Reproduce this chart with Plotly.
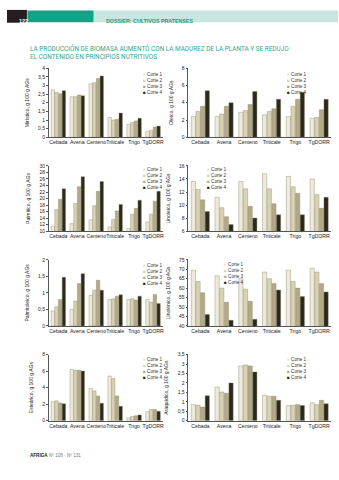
import plotly.graph_objects as go

categories = ["Cebada", "Avena", "Centeno", "Triticale", "Trigo", "TgDORR"]
series_names = ["Corte 1", "Corte 2", "Corte 3", "Corte 4"]
series_colors = ["#eeeadb", "#d9d3b6", "#b1a988", "#2c281c"]

miristico = [[2.75, 2.35, 3.10, 1.15, 0.75, 0.35],
             [2.60, 2.35, 3.15, 1.00, 0.85, 0.40],
             [2.52, 2.45, 3.40, 1.05, 0.95, 0.60],
             [2.70, 2.40, 3.55, 1.40, 1.10, 0.65]]
oleico = [[2.4, 2.4, 2.9, 2.6, 2.4, 2.2],
          [3.0, 2.7, 3.1, 3.0, 3.6, 2.3],
          [3.6, 3.6, 3.8, 3.3, 4.4, 3.2],
          [5.4, 4.0, 5.3, 4.4, 5.2, 4.4]]
palmitico = [[11.5, 12.3, 13.5, 11.3, 10.8, 12.8],
             [16.6, 18.5, 17.8, 13.6, 15.2, 15.2],
             [19.8, 23.6, 22.2, 16.2, 17.0, 19.2],
             [23.0, 26.7, 25.2, 18.2, 19.5, 22.2]]
linoleico = [[13.6, 11.2, 13.6, 14.8, 14.4, 14.0],
             [12.4, 9.6, 12.5, 12.5, 12.8, 11.6],
             [10.8, 8.2, 9.8, 10.2, 11.8, 9.5],
             [9.0, 7.0, 8.0, 8.5, 8.5, 11.2]]
palmitoleico = [[0.45, 0.50, 0.92, 0.80, 0.80, 0.80],
                [0.58, 0.75, 1.08, 0.82, 0.82, 0.72],
                [0.80, 1.28, 1.38, 0.90, 0.78, 0.95],
                [1.47, 1.58, 1.08, 0.94, 0.90, 0.68]]
linolenico = [[69.5, 66.5, 65.0, 68.5, 69.5, 70.5],
              [63.5, 60.0, 59.5, 65.0, 63.5, 68.5],
              [57.5, 52.5, 53.0, 62.5, 60.0, 62.5],
              [46.0, 43.0, 43.5, 59.0, 55.5, 58.0]]
estearico = [[2.30, 6.20, 3.90, 5.40, 0.35, 1.10],
             [2.40, 6.10, 3.60, 5.10, 0.50, 1.35],
             [2.15, 6.10, 3.00, 3.00, 0.60, 1.35],
             [2.05, 6.00, 2.10, 1.75, 0.70, 1.15]]
araquidico = [[0.85, 1.78, 2.90, 1.35, 0.80, 0.95],
              [0.82, 1.52, 2.95, 1.30, 0.82, 0.85],
              [0.72, 1.45, 2.90, 1.30, 0.85, 1.08],
              [1.32, 2.00, 2.58, 1.08, 0.80, 0.90]]

panels = [
    ("Mirístico, g 100 g AGs", miristico, [0, 4], 0.5),
    ("Oleico, g 100 g AGs", oleico, [0, 8], 2),
    ("Palmítico, g 100 g AGs", palmitico, [10, 30], 2),
    ("Linoleico, g 100 g AGs", linoleico, [6, 16], 2),
    ("Palmitoleico, g 100 g AGs", palmitoleico, [0, 2], 0.5),
    ("Linolénico, g 100 g AGs", linolenico, [40, 75], 5),
    ("Esteárico, g 100 g AGs", estearico, [0, 8], 2),
    ("Araquídico, g 100 g AGs", araquidico, [0, 3.5], 0.5),
]

W, H = 339, 480
col_px = [(49, 163), (189, 332)]
row_px = [(66, 136), (165, 231), (260, 327), (356, 423)]
legend_px = [(141, 68), (286, 68), (141, 164), (206, 164),
             (141, 261), (223, 260), (141, 356), (286, 356)]

fig = go.Figure()
annotations = []
shapes = []
teal = "#35a58e"

for i, (title, data, rng, dt) in enumerate(panels):
    r, c = divmod(i, 2)
    n = i + 1
    xa = "x" if n == 1 else f"x{n}"
    ya = "y" if n == 1 else f"y{n}"
    for s in range(4):
        fig.add_trace(go.Bar(
            x=categories, y=data[s], name=series_names[s],
            marker=dict(color=series_colors[s], line=dict(color="#8a8468", width=0.4)),
            xaxis=xa, yaxis=ya, showlegend=False))
    x0, x1 = col_px[c]
    y0, y1 = row_px[r]
    xkey = "xaxis" if n == 1 else f"xaxis{n}"
    ykey = "yaxis" if n == 1 else f"yaxis{n}"
    fig.layout[xkey] = dict(
        domain=[x0 / W, x1 / W], anchor=ya, showline=True, linecolor="#555",
        linewidth=0.6, ticks="", tickangle=0,
        tickfont=dict(size=5.2, color="#222", family="Liberation Sans"),
        showgrid=False, fixedrange=True)
    fig.layout[ykey] = dict(
        domain=[1 - y1 / H, 1 - y0 / H], anchor=xa, range=rng, dtick=dt,
        showline=True, linecolor="#555", linewidth=0.6, ticks="outside", ticklen=2,
        tickcolor="#555", tickwidth=0.6,
        tickfont=dict(size=5, color="#222", family="Liberation Sans"),
        showgrid=False, zeroline=False,
        title=dict(text=title, font=dict(size=5, color="#222", family="Liberation Sans"), standoff=8))
    lx, ly = legend_px[i]
    legend_text = "<br>".join(
        f"<span style='color:{col}'>■</span> {nm}" for nm, col in zip(series_names, series_colors))
    annotations.append(dict(
        x=lx / W, y=1 - ly / H, xref="paper", yref="paper", xanchor="left", yanchor="top",
        text=legend_text, showarrow=False, align="left",
        font=dict(size=4.6, color="#333", family="Liberation Sans")))

# Header
shapes += [
    dict(type="rect", xref="paper", yref="paper", x0=7 / W, x1=27 / W, y0=1 - 20 / H, y1=1 - 7 / H,
         fillcolor="#231f20", line=dict(width=0)),
    dict(type="rect", xref="paper", yref="paper", x0=27.5 / W, x1=94 / W, y0=1 - 19.5 / H, y1=1 - 7.5 / H,
         fillcolor="#16a085", line=dict(width=0)),
    dict(type="rect", xref="paper", yref="paper", x0=94 / W, x1=1, y0=1 - 19.5 / H, y1=1 - 7.5 / H,
         fillcolor="#c9e5df", line=dict(width=0)),
]
annotations += [
    dict(x=17 / W, y=1 - 13.5 / H, xref="paper", yref="paper", text="<b>122</b>", showarrow=False,
         font=dict(size=5.5, color="white", family="Liberation Sans")),
    dict(x=104 / W, y=1 - 13.5 / H, xref="paper", yref="paper", xanchor="left",
         text="<b>DOSSIER: CULTIVOS PRATENSES</b>", showarrow=False,
         font=dict(size=5.3, color="#1f9a82", family="Liberation Sans")),
    dict(x=28 / W, y=1 - 39.5 / H, xref="paper", yref="paper", xanchor="left", yanchor="top",
         text="LA PRODUCCIÓN DE BIOMASA AUMENTÓ CON LA MADUREZ DE LA PLANTA Y SE REDUJO<br>EL CONTENIDO EN PRINCIPIOS NUTRITIVOS",
         showarrow=False, align="left",
         font=dict(size=6.4, color=teal, family="Roboto")),
    dict(x=28 / W, y=1 - 462.5 / H, xref="paper", yref="paper", xanchor="left",
         text="<b>AFRIGA</b> <span style='color:#777'>Nº 108 · Nº 131</span>", showarrow=False,
         font=dict(size=4.6, color="#222", family="Liberation Sans")),
]

fig.update_layout(
    width=W, height=H, margin=dict(l=0, r=0, t=0, b=0),
    paper_bgcolor="white", plot_bgcolor="white",
    barmode="group", bargap=0.22, bargroupgap=0.08,
    separators=",.", showlegend=False,
    annotations=annotations, shapes=shapes,
)

fig.write_html("out.html", config={"displayModeBar": False})
